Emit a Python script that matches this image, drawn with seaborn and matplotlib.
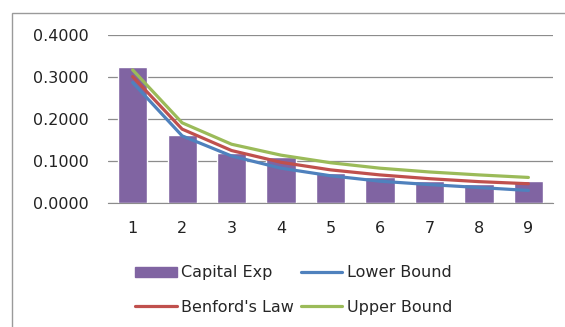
import numpy as np
import pandas as pd
import matplotlib
matplotlib.use("Agg")
import matplotlib.pyplot as plt
import seaborn as sns
from matplotlib.patches import Rectangle, Patch
from matplotlib.lines import Line2D
from matplotlib.ticker import FormatStrFormatter

# datos
digits = ["1", "2", "3", "4", "5", "6", "7", "8", "9"]
capital_exp = [0.323, 0.162, 0.118, 0.109, 0.071, 0.061, 0.052, 0.046, 0.053]
lower_bound = [0.287, 0.160, 0.112, 0.083, 0.065, 0.052, 0.044, 0.037, 0.030]
benford = [0.301, 0.176, 0.125, 0.097, 0.079, 0.067, 0.058, 0.051, 0.046]
upper_bound = [0.317, 0.191, 0.140, 0.114, 0.096, 0.083, 0.074, 0.067, 0.061]

C_BAR, C_LOW, C_BEN, C_UP = "#8064A2", "#4F81BD", "#C0504D", "#9BBB59"

sns.set_style("white")
plt.rcParams['font.family'] = ['DejaVu Sans']

df = pd.DataFrame({"digit": digits, "capital": capital_exp, "lower": lower_bound,
                   "benford": benford, "upper": upper_bound})

fig = plt.figure(figsize=(5.65, 3.27), dpi=100)
ax = fig.add_axes([0.191, 0.379, 0.788, 0.514])

sns.barplot(data=df, x="digit", y="capital", color=C_BAR, saturation=1, width=0.59, ax=ax)
for col, c in [("lower", C_LOW), ("benford", C_BEN), ("upper", C_UP)]:
    sns.lineplot(data=df, x="digit", y=col, color=c, linewidth=2.3, ax=ax)

ax.set_ylim(0, 0.4)
ax.set_xlim(-0.5, 8.5)
ax.set_yticks([0, 0.1, 0.2, 0.3, 0.4])
ax.yaxis.set_major_formatter(FormatStrFormatter("%.4f"))
ax.grid(axis="y", color="#8c8c8c", linewidth=0.9)
ax.set_axisbelow(True)
ax.set_xlabel("")
ax.set_ylabel("")
for s in ["top", "right", "left"]:
    ax.spines[s].set_visible(False)
ax.spines["bottom"].set_color("#8c8c8c")
ax.tick_params(axis="both", length=0, labelsize=11.5, colors="#222222")
ax.tick_params(axis="y", pad=14)
ax.tick_params(axis="x", pad=13)

# marco exterior
fig.patches.append(Rectangle((0.022, -0.2), 1.2, 1.16, transform=fig.transFigure,
                             fill=False, edgecolor="#9a9a9a", linewidth=1))

# orden por columnas para que la fila 1 sea Capital Exp / Lower Bound
handles = [Patch(color=C_BAR), Line2D([], [], color=C_BEN, lw=2.3),
           Line2D([], [], color=C_LOW, lw=2.3), Line2D([], [], color=C_UP, lw=2.3)]
labels = ["Capital Exp", "Benford's Law", "Lower Bound", "Upper Bound"]
fig.legend(handles, labels, ncol=2, loc="center", bbox_to_anchor=(0.52, 0.113),
           frameon=False, fontsize=11.5, handlelength=2.6, handleheight=0.65,
           handletextpad=0.3, columnspacing=0.4, labelspacing=1.2)

fig.savefig("out.png", dpi=100)
